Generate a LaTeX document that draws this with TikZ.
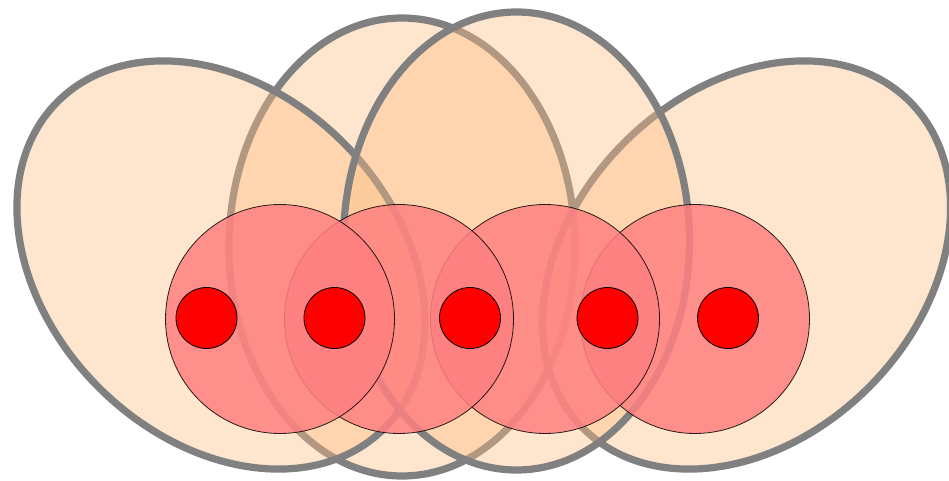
\documentclass[tikz,border=0pt]{standalone}
\usetikzlibrary{shapes.geometric}
\definecolor{eggpeach}{RGB}{253,190,130}
\definecolor{eggline}{RGB}{128,128,128}
\definecolor{zonepink}{RGB}{255,128,128}
\begin{document}
\begin{tikzpicture}[x=1pt,y=1pt,
  egg/.style={ellipse,draw=eggline,line width=7.2pt,fill=eggpeach,fill opacity=0.4,inner sep=0pt,minimum width=462pt,minimum height=346pt},
  zone/.style={circle,draw=black,line width=0.8pt,fill=zonepink,opacity=0.85,inner sep=0pt,minimum size=229pt},
  core/.style={circle,draw=black,line width=0.8pt,fill=red,inner sep=0pt,minimum size=61pt}]

\useasboundingbox (0,0) rectangle (949,480);

% ---- the four eggs ----
\node[egg,rotate=90,minimum width=458pt] (egg2) at (402,233) {};
\node[egg,rotate=-45] (egg1) at (221,215) {};
\node[egg,rotate=45] (egg4) at (746.5,215) {};
\node[egg,rotate=90,minimum width=458pt] (egg3) at (516.5,239) {};

% ---- pink zones ----
\node[zone] (zone4) at (695,161) {};
\node[zone] (zone3) at (545,161) {};
\node[zone] (zone2) at (399,161) {};
\node[zone] (zone1) at (280,161) {};

% ---- red cores ----
\node[core] (core1) at (206.5,162) {};
\node[core] (core2) at (334.5,162) {};
\node[core] (core3) at (470,162) {};
\node[core] (core4) at (607.5,162) {};
\node[core] (core5) at (728,162) {};
\end{tikzpicture}
\end{document}
